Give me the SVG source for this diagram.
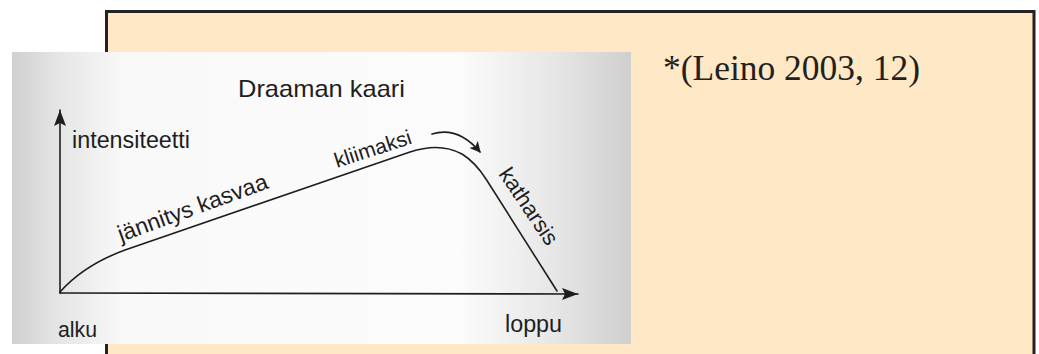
<svg xmlns="http://www.w3.org/2000/svg" width="1039" height="354" viewBox="0 0 1039 354">
<style>
.sans{font-family:"Liberation Sans",Arial,sans-serif;fill:#1e1e1e}
.ln{fill:none;stroke:#1e1e1e;stroke-width:1.6;stroke-linecap:round;stroke-linejoin:round}
</style>
<defs>
<linearGradient id="paper" x1="0" y1="0" x2="1" y2="0">
<stop offset="0" stop-color="#d0d0d0"/>
<stop offset="0.07" stop-color="#e4e4e4"/>
<stop offset="0.18" stop-color="#f9f9f9"/>
<stop offset="0.72" stop-color="#fcfcfc"/>
<stop offset="0.88" stop-color="#e6e6e6"/>
<stop offset="1" stop-color="#cfcfcf"/>
</linearGradient>
<marker id="ah" viewBox="0 0 10 10" refX="9" refY="5" markerWidth="11" markerHeight="11" markerUnits="userSpaceOnUse" orient="auto">
<path d="M0,0 L10,5 L0,10 L2.5,5 Z" fill="#1e1e1e"/>
</marker>
<marker id="axh" viewBox="0 0 16 12" refX="16" refY="6" markerWidth="16" markerHeight="12" markerUnits="userSpaceOnUse" orient="auto">
<path d="M0,0 L16,6 L0,12 L3,6 Z" fill="#1e1e1e"/>
</marker>
</defs>
<g id="panel">
<rect x="106.5" y="11.5" width="927.5" height="400" fill="#fee8c6" stroke="#232323" stroke-width="3"/>
<text x="663" y="80" font-family="'Liberation Serif','Times New Roman',serif" font-size="35" fill="#231f20" textLength="257" lengthAdjust="spacingAndGlyphs">*(Leino 2003, 12)</text>
</g>
<g id="figure">
<rect x="12" y="52" width="619" height="292" fill="url(#paper)"/>
<text class="sans" x="238" y="97" font-size="24" textLength="167" lengthAdjust="spacingAndGlyphs">Draaman kaari</text>
<text class="sans" x="72" y="148" font-size="23" textLength="118" lengthAdjust="spacingAndGlyphs">intensiteetti</text>
<text class="sans" x="58" y="337" font-size="22" textLength="39" lengthAdjust="spacingAndGlyphs">alku</text>
<text class="sans" x="505" y="332" font-size="23" textLength="57" lengthAdjust="spacingAndGlyphs">loppu</text>
<g id="connectors">
<path class="ln" d="M60,293 L60,110" marker-end="url(#axh)" stroke-width="2"/>
<path class="ln" d="M60,293 L578,294" marker-end="url(#axh)" stroke-width="2"/>
<path class="ln" d="M60,292 Q84,265 125,250 L410,152 Q440,142 462,154 Q475,162 486,179 L557,291"/>
<path class="ln" d="M432,134 Q458,126 480,152" stroke-width="2.6" marker-end="url(#ah)"/>
</g>
<text class="sans" font-size="23" transform="translate(121,242) rotate(-20)" textLength="158" lengthAdjust="spacingAndGlyphs">jännitys kasvaa</text>
<text class="sans" font-size="21" transform="translate(337,168) rotate(-18)" textLength="80" lengthAdjust="spacingAndGlyphs">kliimaksi</text>
<text class="sans" font-size="22" transform="translate(498,174) rotate(56)" textLength="88" lengthAdjust="spacingAndGlyphs">katharsis</text>
</g>
</svg>
